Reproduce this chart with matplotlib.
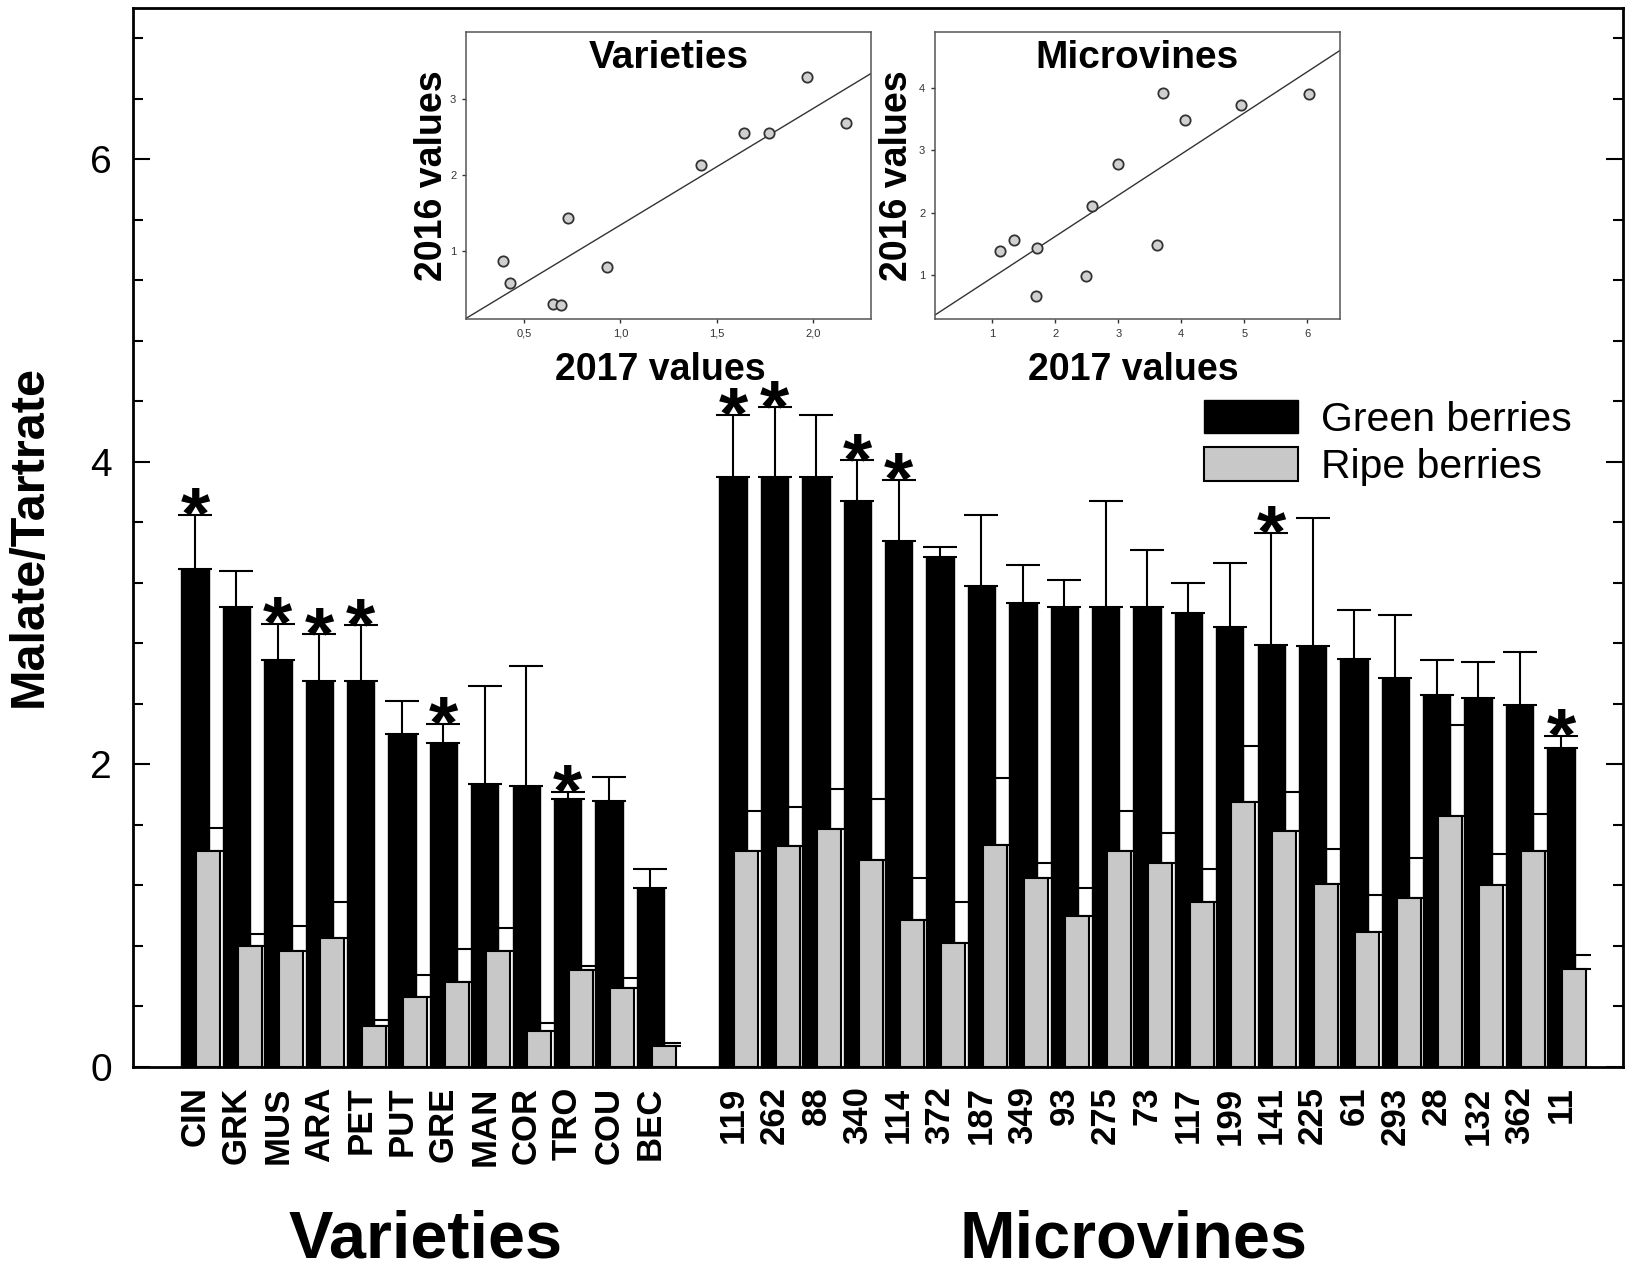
import numpy as np
import matplotlib.pyplot as plt
from matplotlib.patches import Patch
from matplotlib.ticker import MultipleLocator

plt.rcParams['font.family'] = ['Liberation Sans', 'DejaVu Sans']

# Main chart: varieties
var_names = ['CIN', 'GRK', 'MUS', 'ARA', 'PET', 'PUT', 'GRE', 'MAN', 'COR', 'TRO', 'COU', 'BEC']
var_green = [3.29, 3.04, 2.69, 2.55, 2.55, 2.20, 2.14, 1.87, 1.86, 1.77, 1.76, 1.18]
var_green_err = [0.36, 0.24, 0.24, 0.31, 0.37, 0.22, 0.13, 0.65, 0.79, 0.05, 0.16, 0.13]
var_ripe = [1.43, 0.80, 0.77, 0.85, 0.27, 0.46, 0.56, 0.77, 0.24, 0.64, 0.52, 0.14]
var_ripe_err = [0.15, 0.08, 0.16, 0.24, 0.04, 0.15, 0.22, 0.15, 0.05, 0.03, 0.07, 0.02]
var_star = [1, 0, 1, 1, 1, 0, 1, 0, 0, 1, 0, 0]

# Main chart: microvines
mv_names = ['119', '262', '88', '340', '114', '372', '187', '349', '93', '275', '73',
            '117', '199', '141', '225', '61', '293', '28', '132', '362', '11']
mv_green = [3.90, 3.90, 3.90, 3.74, 3.48, 3.37, 3.18, 3.07, 3.04, 3.04, 3.04,
            3.00, 2.91, 2.79, 2.78, 2.70, 2.57, 2.46, 2.44, 2.39, 2.11]
mv_green_err = [0.41, 0.46, 0.41, 0.27, 0.40, 0.07, 0.47, 0.25, 0.18, 0.70, 0.38,
                0.20, 0.42, 0.74, 0.85, 0.32, 0.42, 0.23, 0.24, 0.35, 0.08]
mv_ripe = [1.43, 1.46, 1.57, 1.37, 0.97, 0.82, 1.47, 1.25, 1.00, 1.43, 1.35,
           1.09, 1.75, 1.56, 1.21, 0.89, 1.12, 1.66, 1.20, 1.43, 0.65]
mv_ripe_err = [0.26, 0.26, 0.27, 0.40, 0.28, 0.27, 0.44, 0.10, 0.18, 0.26, 0.20,
               0.22, 0.37, 0.26, 0.23, 0.25, 0.26, 0.60, 0.21, 0.24, 0.09]
mv_star = [1, 1, 0, 1, 1, 0, 0, 0, 0, 0, 0, 0, 0, 1, 0, 0, 0, 0, 0, 0, 1]

# Inset scatter: 2017 vs 2016 values
var_2017 = [0.39, 0.43, 0.65, 0.69, 0.73, 0.93, 1.42, 1.64, 1.77, 1.97, 2.17]
var_2016 = [0.86, 0.57, 0.30, 0.28, 1.44, 0.79, 2.14, 2.55, 2.55, 3.29, 2.69]
var_fit = (1.54, -0.20)
mv_2017 = [1.12, 1.35, 1.71, 1.70, 2.48, 2.58, 3.00, 3.62, 3.71, 4.06, 4.95, 6.02]
mv_2016 = [1.39, 1.57, 1.43, 0.67, 0.98, 2.11, 2.78, 1.48, 3.91, 3.48, 3.73, 3.90]
mv_fit = (0.658, 0.305)

W, H = 1630, 1268
fig = plt.figure(figsize=(W / 100, H / 100), dpi=100)


def px(l, t, r, b):
    return [l / W, 1 - b / H, (r - l) / W, (b - t) / H]


ax = fig.add_axes(px(133, 8, 1623, 1067))

x_var = np.arange(len(var_names))
x_mv = np.arange(len(mv_names)) + len(var_names) + 1
x = np.concatenate([x_var, x_mv]).astype(float)
green = np.array(var_green + mv_green)
green_err = np.array(var_green_err + mv_green_err)
ripe = np.array(var_ripe + mv_ripe)
ripe_err = np.array(var_ripe_err + mv_ripe_err)
star = np.array(var_star + mv_star)
zeros = np.zeros(len(x))

off = 0.32
ax.errorbar(x + off, ripe, yerr=[zeros, ripe_err], fmt='none', ecolor='black',
            elinewidth=1.5, capsize=12, capthick=1.5, zorder=1)
ax.bar(x, green, 0.66, color='black', edgecolor='black', linewidth=1, zorder=2,
       label='Green berries')
ax.errorbar(x, green, yerr=[zeros, green_err], fmt='none', ecolor='black',
            elinewidth=1.5, capsize=12, capthick=1.5, zorder=2.5)
ax.bar(x + off, ripe, 0.58, color='#c8c8c8', edgecolor='black', linewidth=1.5,
       zorder=3, label='Ripe berries')

# significance stars above the green-berry error bars
for xi, top, s in zip(x, green + green_err, star):
    if s:
        ax.annotate('*', (xi, top), xytext=(0, -17), textcoords='offset points',
                    ha='center', va='baseline', fontsize=54, fontweight='bold')

ax.set_xlim(-1.5, x[-1] + 1.5)
ax.set_ylim(0, 7)
ax.set_xticks(x)
ax.set_xticklabels(var_names + mv_names, rotation=90, fontsize=25, fontweight='bold')
ax.tick_params(axis='x', length=0, pad=14)
ax.set_yticks([0, 2, 4, 6])
ax.yaxis.set_minor_locator(MultipleLocator(0.4))
ax.tick_params(axis='y', which='both', direction='in', left=True, right=True,
               width=1.5, labelsize=28, pad=15)
ax.tick_params(axis='y', which='major', length=12)
ax.tick_params(axis='y', which='minor', length=7)
for sp in ax.spines.values():
    sp.set_linewidth(2)

handles = [Patch(facecolor='black', edgecolor='black'),
           Patch(facecolor='#c8c8c8', edgecolor='black', linewidth=1.5)]
ax.legend(handles, ['Green berries', 'Ripe berries'], loc='upper left',
          bbox_to_anchor=(1204 / W, 1 - 400 / H), bbox_transform=fig.transFigure,
          frameon=False, fontsize=29.5, handlelength=2.3, handleheight=0.88,
          handletextpad=0.55, labelspacing=0.2, borderpad=0, borderaxespad=0)

fig.text(29 / W, 1 - 536 / H, 'Malate/Tartrate', rotation=90, ha='center',
         va='center', fontsize=35, fontweight='bold')
fig.text(426 / W, 1 - 1240 / H, 'Varieties', ha='center', va='center',
         fontsize=48, fontweight='bold')
fig.text(1134 / W, 1 - 1240 / H, 'Microvines', ha='center', va='center',
         fontsize=48, fontweight='bold')


def inset(rect, xs, ys, fit, title, xlim, ylim, xticks, xtl, yticks, ylab_x, xlab_x):
    a = fig.add_axes(px(*rect))
    a.scatter(xs, ys, s=55, c='#d0d0d0', edgecolors='#333333', linewidths=1.3, zorder=3)
    xx = np.array(xlim)
    a.plot(xx, fit[0] * xx + fit[1], color='#333333', lw=1.0, zorder=2)
    a.set_xlim(xlim)
    a.set_ylim(ylim)
    a.set_xticks(xticks)
    a.set_xticklabels(xtl)
    a.set_yticks(yticks)
    a.set_yticklabels([str(v) for v in yticks])
    a.tick_params(labelsize=8, colors='#333333', length=3, width=1, pad=4)
    for sp in a.spines.values():
        sp.set_color('#555555')
        sp.set_linewidth(1.1)
    a.text(0.5, 0.873, title, transform=a.transAxes, ha='center', va='baseline',
           fontsize=28, fontweight='bold')
    a.text(xlab_x, -0.2125, '2017 values', transform=a.transAxes, ha='center',
           va='baseline', fontsize=27, fontweight='bold')
    a.text(ylab_x, 0.5, '2016 values', transform=a.transAxes, rotation=90,
           ha='center', va='center', fontsize=27, fontweight='bold')
    return a


inset((466, 32, 871, 319), var_2017, var_2016, var_fit, 'Varieties',
      (0.2, 2.3), (0.1, 3.89), [0.5, 1.0, 1.5, 2.0], ['0,5', '1,0', '1,5', '2,0'],
      [1, 2, 3], -0.083, 0.481)
inset((935, 32, 1340, 319), mv_2017, mv_2016, mv_fit, 'Microvines',
      (0.09, 6.52), (0.3, 4.89), [1, 2, 3, 4, 5, 6], ['1', '2', '3', '4', '5', '6'],
      [1, 2, 3, 4], -0.095, 0.489)

fig.savefig('out.png', dpi=100)
